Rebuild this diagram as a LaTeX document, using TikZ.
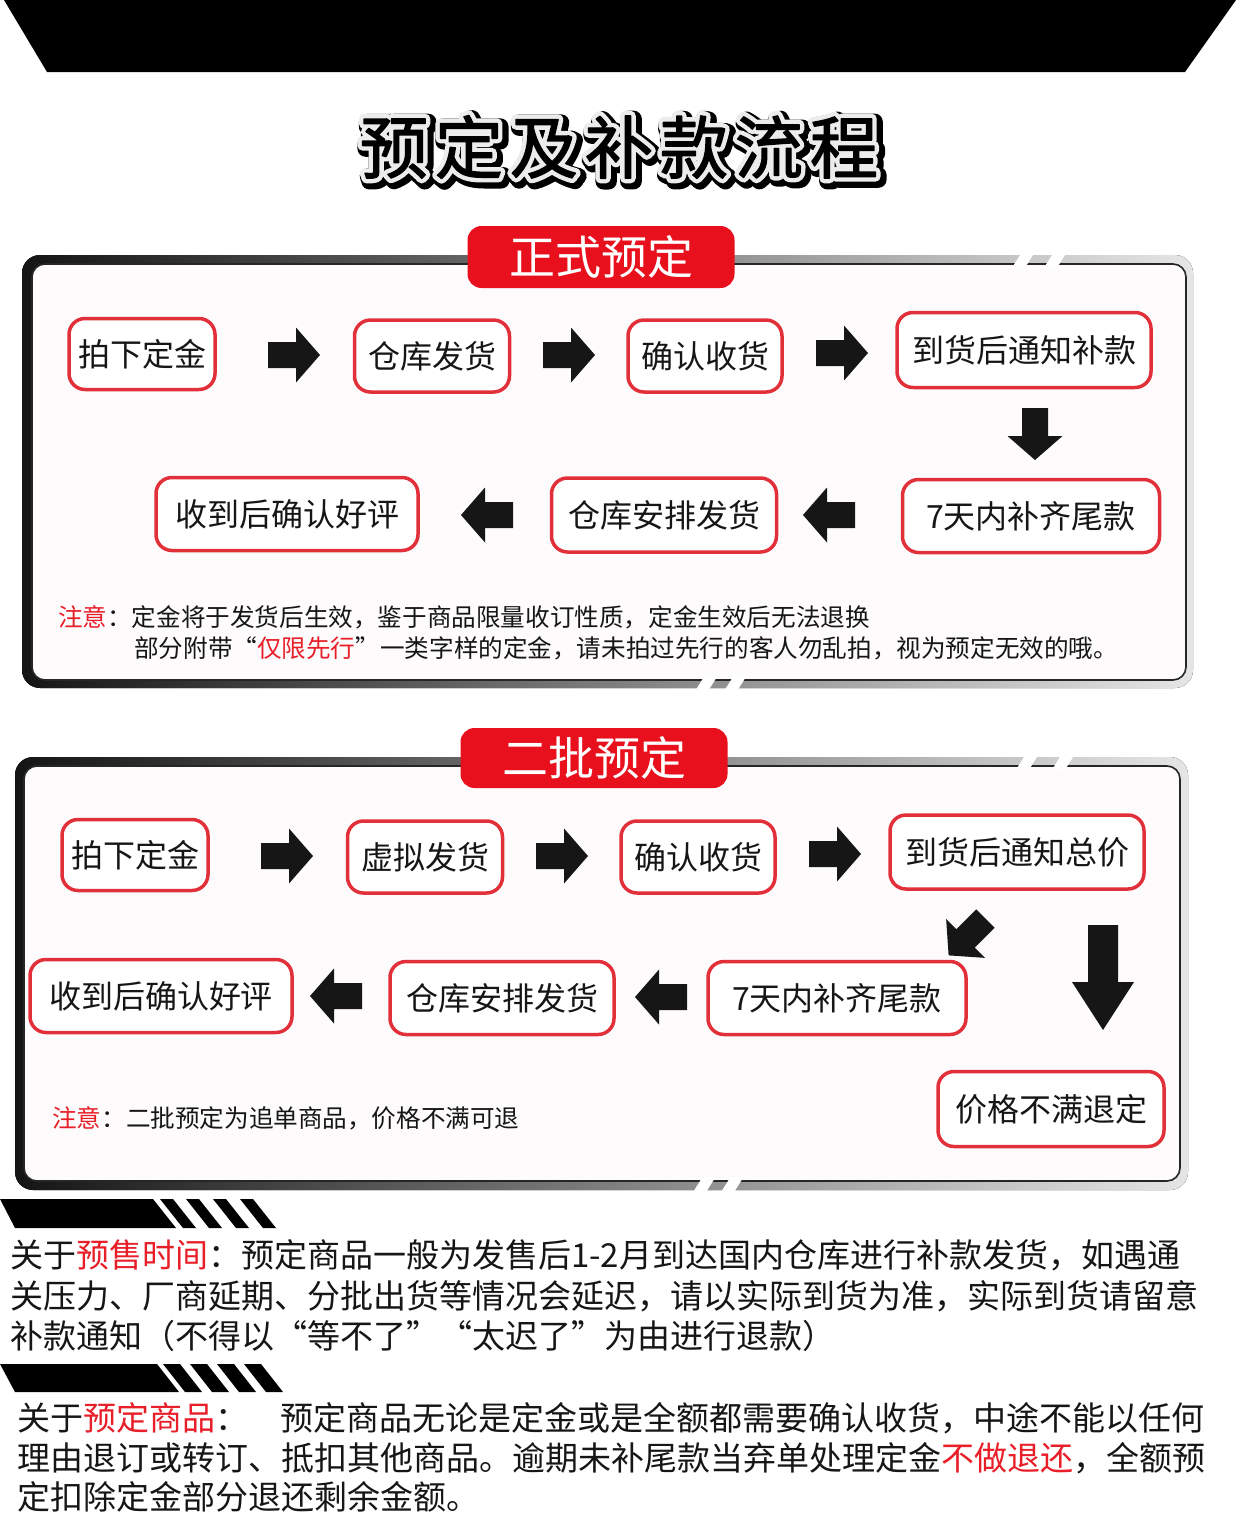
\documentclass[tikz,border=0pt]{standalone}
\usepackage{fontspec}
\setmainfont{Noto Sans CJK SC}
\newfontfamily\titleouter{Noto Sans CJK SC}[FakeBold=24]
\newfontfamily\titlemid{Noto Sans CJK SC}[FakeBold=15]
\newfontfamily\titleplain{Noto Sans CJK SC}[FakeBold=2]
\newcommand\mytitle{预\hspace{7pt}定\hspace{7pt}及\hspace{7pt}补\hspace{7pt}款\hspace{7pt}流\hspace{7pt}程}
\definecolor{boxred}{RGB}{226,48,58}
\definecolor{tabred}{RGB}{232,16,28}
\definecolor{tred}{RGB}{232,30,40}
\definecolor{panelbg}{RGB}{253,251,252}
\definecolor{ink}{RGB}{22,22,22}
\definecolor{outlinegray}{RGB}{236,236,236}
\begin{document}
\begin{tikzpicture}[x=1pt,y=-1pt,
  stepbox/.style={draw=boxred, line width=3.5pt, fill=white, rounded corners=16pt, inner sep=0pt, text=ink, font=\fontsize{32}{36}\selectfont},
  tabbox/.style={fill=tabred, rounded corners=14pt, text=white, inner sep=0pt, font=\fontsize{46}{50}\selectfont},
  frameouter/.style={rounded corners=18pt, left color=black!92, right color=black!10},
  frameinner/.style={rounded corners=13pt, fill=panelbg, draw=black!85, line width=1.6pt},
  notetext/.style={font=\fontsize{24.6}{28}\selectfont, anchor=west, inner sep=0pt, text=ink},
  bodytext/.style={font=\fontsize{33}{40}\selectfont, anchor=west, inner sep=0pt, text=ink},
  titlesize/.style={inner sep=0pt, line join=round, line cap=round},
  blockarrow/.pic={\fill[ink] (-26,-13) -- (2,-13) -- (2,-27.5) -- (26,0) -- (2,27.5) -- (2,13) -- (-26,13) -- cycle;},
  cut/.pic={\fill[white] (-1.5,-8) -- (11.5,-8) -- (1.5,8) -- (-11.5,8) -- cycle;}
]
\useasboundingbox (0,0) rectangle (1240,1519);
\fill[white] (0,0) rectangle (1240,1519);

% top banner
\fill[black] (4,0) -- (1236,0) -- (1185,72) -- (47,72) -- cycle;

% title (sticker style outline)
\begin{scope}[line join=round]
\node[titlesize, text=black, font=\titleouter\fontsize{68}{72}\selectfont] (tb) at (622,150) {\mytitle};
\node[titlesize, text=outlinegray, font=\titlemid\fontsize{68}{72}\selectfont] (tg) at (619,147) {\mytitle};
\node[titlesize, text=black, font=\titleplain\fontsize{68}{72}\selectfont] (title) at (619,147) {\mytitle};
\end{scope}

% ---------- panel 1 ----------
\fill[frameouter] (22,255) rectangle (1193,688);
\filldraw[frameinner] (32,264) rectangle (1186,680);
\pic (c1) at (1024,259) {cut};
\pic (c2) at (1056,259) {cut};
\pic (c3) at (706,684) {cut};
\pic (c4) at (735,684) {cut};
\node[tabbox, minimum width=267pt, minimum height=62pt] (tab1) at (601,257) {正式预定};

\node[stepbox, minimum width=146pt, minimum height=71pt] (a1) at (142,354) {拍下定金};
\node[stepbox, minimum width=155pt, minimum height=72pt] (a2) at (432,356) {仓库发货};
\node[stepbox, minimum width=154pt, minimum height=72pt] (a3) at (705,356) {确认收货};
\node[stepbox, minimum width=254pt, minimum height=75pt] (a4) at (1024,350) {到货后通知补款};
\node[stepbox, minimum width=257pt, minimum height=73pt] (a5) at (1031,516) {7天内补齐尾款};
\node[stepbox, minimum width=225pt, minimum height=74pt] (a6) at (664,515) {仓库安排发货};
\node[stepbox, minimum width=262pt, minimum height=73pt] (a7) at (287,514) {收到后确认好评};

\pic (r1) at (294,355) {blockarrow};
\pic (r2) at (569,355) {blockarrow};
\pic (r3) at (842,353) {blockarrow};
\pic[rotate=-90] (d1) at (1035,434) {blockarrow};
\pic[rotate=180] (l1) at (829,515) {blockarrow};
\pic[rotate=180] (l2) at (487,515) {blockarrow};

\node[notetext] (n1) at (58,617) {\textcolor{tred}{注意}：定金将于发货后生效，鉴于商品限量收订性质，定金生效后无法退换};
\node[notetext] (n2) at (134,648) {部分附带“\textcolor{tred}{仅限先行}”一类字样的定金，请未拍过先行的客人勿乱拍，视为预定无效的哦。};

% ---------- panel 2 ----------
\fill[frameouter] (15,757) rectangle (1188,1190);
\filldraw[frameinner] (24,766) rectangle (1180,1181);
\pic (c5) at (1028,761) {cut};
\pic (c6) at (1064,761) {cut};
\pic (c7) at (704,1185) {cut};
\pic (c8) at (732,1185) {cut};
\node[tabbox, minimum width=267pt, minimum height=60pt] (tab2) at (594,758) {二批预定};

\node[stepbox, minimum width=146pt, minimum height=71pt] (b1) at (135,855) {拍下定金};
\node[stepbox, minimum width=155pt, minimum height=72pt] (b2) at (425,857) {虚拟发货};
\node[stepbox, minimum width=154pt, minimum height=72pt] (b3) at (698,857) {确认收货};
\node[stepbox, minimum width=254pt, minimum height=74pt] (b4) at (1017,852) {到货后通知总价};
\node[stepbox, minimum width=258pt, minimum height=73pt] (b5) at (837,998) {7天内补齐尾款};
\node[stepbox, minimum width=224pt, minimum height=73pt] (b6) at (502,998) {仓库安排发货};
\node[stepbox, minimum width=262pt, minimum height=73pt] (b7) at (161,996) {收到后确认好评};
\node[stepbox, minimum width=226pt, minimum height=75pt] (b8) at (1051,1109) {价格不满退定};

\pic (s1) at (287,856) {blockarrow};
\pic (s2) at (562,856) {blockarrow};
\pic (s3) at (835,854) {blockarrow};
\pic[rotate=225] (g1) at (967,937) {blockarrow};
\pic[rotate=180] (t1) at (661,997) {blockarrow};
\pic[rotate=180] (t2) at (336,996) {blockarrow};
\fill[ink] (1088,925) -- (1118,925) -- (1118,982) -- (1134,982) -- (1103,1030) -- (1072,982) -- (1088,982) -- cycle;

\node[notetext] (n3) at (52,1118) {\textcolor{tred}{注意}：二批预定为追单商品，价格不满可退};

% ---------- bottom sections ----------
\fill[black] (0,1199) -- (153,1199) -- (176,1228) -- (15,1228) -- cycle;
\foreach \x in {160,186,213,240} {\fill[black] (\x,1199) -- (\x+13,1199) -- (\x+36,1228) -- (\x+23,1228) -- cycle;}

\node[bodytext] (p1) at (10,1255) {关于\textcolor{tred}{预售时间}：预定商品一般为发售后1-2月到达国内仓库进行补款发货，如遇通};
\node[bodytext] (p2) at (10,1296) {关压力、厂商延期、分批出货等情况会延迟，请以实际到货为准，实际到货请留意};
\node[bodytext] (p3) at (10,1336) {补款通知（不得以“等不了”“太迟了”为由进行退款）};

\fill[black] (0,1364) -- (157,1364) -- (179,1392) -- (15,1392) -- cycle;
\foreach \x in {163,190,217,244} {\fill[black] (\x,1364) -- (\x+17,1364) -- (\x+39,1392) -- (\x+22,1392) -- cycle;}

\node[bodytext] (q1) at (17,1418) {关于\textcolor{tred}{预定商品}：\hspace*{32pt}预定商品无论是定金或是全额都需要确认收货，中途不能以任何};
\node[bodytext] (q2) at (17,1458) {理由退订或转订、抵扣其他商品。逾期未补尾款当弃单处理定金\textcolor{tred}{不做退还}，全额预};
\node[bodytext] (q3) at (17,1497) {定扣除定金部分退还剩余金额。};
\end{tikzpicture}
\end{document}
